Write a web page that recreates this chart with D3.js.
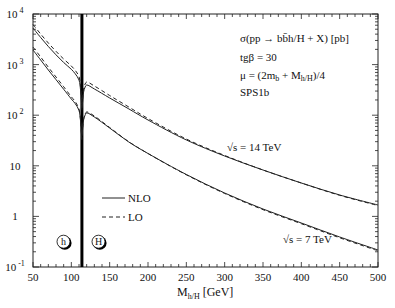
<!DOCTYPE html>
<html>
<head>
<meta charset="utf-8">
<script src="https://cdn.jsdelivr.net/npm/d3@7"></script>
<style>
body { margin: 0; background: #fff; }
text { font-family: "Liberation Serif", "DejaVu Serif", serif; fill: #111; }
</style>
</head>
<body>
<div id="chart"></div>
<script>
// masses (GeV), light h branch and heavy H branch
var massLight = [50, 60, 70, 80, 90, 100, 105, 110, 112, 113, 113.8];
var massHeavy = [114, 115, 116, 118, 120, 130, 150, 175, 200, 250, 300, 350, 400, 450, 500];

// cross sections in pb, sqrt(s) = 14 TeV
var nlo14Light = [5290, 3430, 2280, 1560, 1100, 807, 661, 496, 315, 200, 127];
var lo14Light  = [6200, 4020, 2670, 1830, 1290, 938, 772, 582, 361, 224, 139];
var nlo14Heavy = [139, 200, 287, 361, 395, 330, 219, 133, 80.4, 32.4, 15.6, 8.26, 4.57, 2.65, 1.68];
var lo14Heavy  = [152, 229, 330, 414, 453, 378, 245, 145, 86.1, 33.8, 16.0, 8.26, 4.57, 2.61, 1.64];

// sqrt(s) = 7 TeV
var nlo7Light = [1943, 1233, 782, 505, 326, 209, 170, 124, 76.8, 46.6, 32.4];
var lo7Light  = [2227, 1414, 889, 569, 366, 231, 187, 133, 80.4, 48.7, 33.1];
var nlo7Heavy = [38.8, 58.5, 80.4, 101, 111, 92.1, 55.8, 29.5, 17.5, 6.73, 2.90, 1.40, 0.741, 0.392, 0.217];
var lo7Heavy  = [41.6, 62.6, 84.9, 106, 116, 96.4, 57.1, 29.9, 17.5, 6.64, 2.84, 1.36, 0.717, 0.378, 0.209];

var xTicks = [50, 100, 150, 200, 250, 300, 350, 400, 450, 500];
var yTicks = [0.1, 1, 10, 100, 1000, 10000];
var yLabelBase = ["10", "1", "10", "10", "10", "10"];
var yLabelExp = ["-1", "", "", "2", "3", "4"];
var massLimit = 113.8;

var W = 395, H = 308;
var x0 = 33, x1 = 378, y0 = 14, y1 = 267;

var x = d3.scaleLinear().domain([50, 500]).range([x0, x1]);
var y = d3.scaleLog().domain([0.1, 10000]).range([y1, y0]);

var svg = d3.select("#chart")
  .append("svg")
  .attr("width", W)
  .attr("height", H);

// frame
svg.append("rect")
  .attr("x", x0).attr("y", y0)
  .attr("width", x1 - x0).attr("height", y1 - y0)
  .attr("fill", "none").attr("stroke", "#222").attr("stroke-width", 1);

// x ticks (bottom and top, inward)
var ticks = svg.append("g").attr("stroke", "#222").attr("stroke-width", 0.8);
for (var m = 50; m <= 500; m += 10) {
  var len = (m % 50 == 0) ? 5 : 3;
  ticks.append("line").attr("x1", x(m)).attr("x2", x(m)).attr("y1", y1).attr("y2", y1 - len);
  ticks.append("line").attr("x1", x(m)).attr("x2", x(m)).attr("y1", y0).attr("y2", y0 + len);
}
// y ticks (left and right), log minors
yTicks.forEach(function (d, i) {
  ticks.append("line").attr("x1", x0).attr("x2", x0 + 6).attr("y1", y(d)).attr("y2", y(d));
  ticks.append("line").attr("x1", x1).attr("x2", x1 - 6).attr("y1", y(d)).attr("y2", y(d));
  if (i < yTicks.length - 1) {
    for (var k = 2; k <= 9; k++) {
      ticks.append("line").attr("x1", x0).attr("x2", x0 + 3).attr("y1", y(d * k)).attr("y2", y(d * k));
      ticks.append("line").attr("x1", x1).attr("x2", x1 - 3).attr("y1", y(d * k)).attr("y2", y(d * k));
    }
  }
});

// tick labels
svg.append("g").selectAll("text")
  .data(xTicks)
  .enter().append("text")
  .attr("x", d => x(d))
  .attr("y", y1 + 14)
  .attr("text-anchor", "middle")
  .style("font-size", "11px")
  .text(d => d);

var yl = svg.append("g").selectAll("text")
  .data(yTicks)
  .enter().append("text")
  .attr("x", 15)
  .attr("y", d => y(d) + 4)
  .attr("text-anchor", "middle")
  .style("font-size", "11px");
yl.append("tspan").text((d, i) => yLabelBase[i]);
yl.append("tspan")
  .attr("dx", 2).attr("dy", -5)
  .style("font-size", "8px")
  .text((d, i) => yLabelExp[i]);

// axis title
var xt = svg.append("text").attr("x", 177).attr("y", 296).style("font-size", "12px");
xt.append("tspan").text("M");
xt.append("tspan").attr("dy", 3).style("font-size", "8px").text("h/H");
xt.append("tspan").attr("dy", -3).text(" [GeV]");

// h mass limit
svg.append("line")
  .attr("x1", x(massLimit)).attr("x2", x(massLimit))
  .attr("y1", y0).attr("y2", y1)
  .attr("stroke", "#000").attr("stroke-width", 3);

// curves
var line = d3.line()
  .x(d => x(d[0]))
  .y(d => y(d[1]))
  .curve(d3.curveCatmullRom.alpha(0.5));

function draw(mass, vals, dashed) {
  svg.append("path")
    .datum(mass.map((m, i) => [m, vals[i]]))
    .attr("d", line)
    .attr("fill", "none")
    .attr("stroke", "#222")
    .attr("stroke-width", 1)
    .attr("stroke-dasharray", dashed ? "4,3" : null);
}
draw(massLight, nlo14Light, false);
draw(massLight, lo14Light, true);
draw(massHeavy, nlo14Heavy, false);
draw(massHeavy, lo14Heavy, true);
draw(massLight, nlo7Light, false);
draw(massLight, lo7Light, true);
draw(massHeavy, nlo7Heavy, false);
draw(massHeavy, lo7Heavy, true);

// info text
var info = svg.append("g").style("font-size", "11px");
info.append("text").attr("x", 240).attr("y", 42).text("σ(pp → bb\u0304h/H + X) [pb]");
info.append("text").attr("x", 240).attr("y", 61).text("tgβ = 30");
var mu = info.append("text").attr("x", 240).attr("y", 79);
mu.append("tspan").text("μ = (2m");
mu.append("tspan").attr("dy", 2).style("font-size", "8px").text("b");
mu.append("tspan").attr("dy", -2).text(" + M");
mu.append("tspan").attr("dy", 2).style("font-size", "8px").text("h/H");
mu.append("tspan").attr("dy", -2).text(")/4");
info.append("text").attr("x", 240).attr("y", 96).text("SPS1b");

info.append("text").attr("x", 227).attr("y", 151).text("√s = 14 TeV");
info.append("text").attr("x", 283).attr("y", 243).text("√s = 7 TeV");

// legend
svg.append("line").attr("x1", 102).attr("x2", 125).attr("y1", 198).attr("y2", 198)
  .attr("stroke", "#222").attr("stroke-width", 1);
svg.append("line").attr("x1", 102).attr("x2", 125).attr("y1", 217).attr("y2", 217)
  .attr("stroke", "#222").attr("stroke-width", 1).attr("stroke-dasharray", "4,3");
svg.append("text").attr("x", 128).attr("y", 202).style("font-size", "11px").text("NLO");
svg.append("text").attr("x", 128).attr("y", 221).style("font-size", "11px").text("LO");

// circled h and H
[["h", 63.5], ["H", 98.5]].forEach(function (c) {
  svg.append("circle").attr("cx", c[1] + 1.3).attr("cy", 243).attr("r", 6.8).attr("fill", "#000");
  svg.append("circle").attr("cx", c[1]).attr("cy", 241.7).attr("r", 6.5)
    .attr("fill", "#fff").attr("stroke", "#000").attr("stroke-width", 0.8);
  svg.append("text").attr("x", c[1]).attr("y", 245.2).attr("text-anchor", "middle")
    .style("font-size", "10px").text(c[0]);
});
</script>
</body>
</html>
